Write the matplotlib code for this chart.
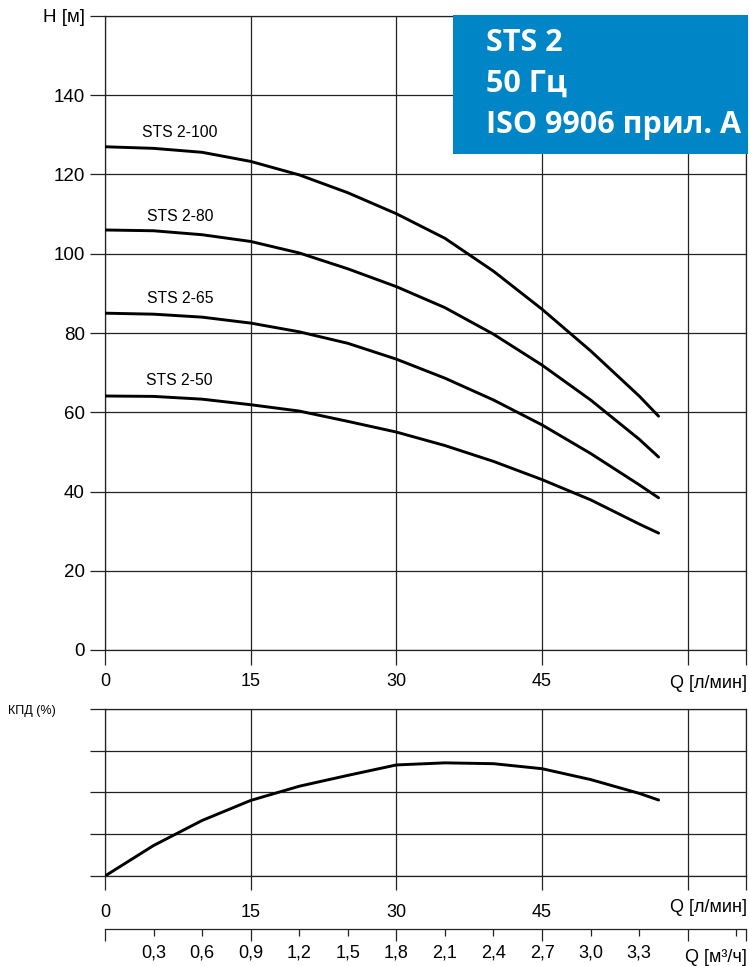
import matplotlib
matplotlib.use('Agg')
import matplotlib.pyplot as plt
from matplotlib.patches import Rectangle

# ---- data ----
q = [0, 5, 10, 15, 20, 25, 30, 35, 40, 45, 50, 55, 57]
h_100 = [127.0, 126.6, 125.6, 123.3, 119.9, 115.4, 110.1, 103.9, 95.6, 86.0, 75.5, 64.1, 59.0]
h_80 = [106.0, 105.8, 104.8, 103.1, 100.2, 96.2, 91.7, 86.4, 79.7, 71.9, 63.1, 53.2, 48.7]
h_65 = [85.0, 84.75, 84.0, 82.5, 80.3, 77.4, 73.4, 68.6, 63.1, 56.8, 49.6, 41.7, 38.4]
h_50 = [64.1, 64.0, 63.3, 61.9, 60.3, 57.7, 55.0, 51.6, 47.6, 43.0, 37.9, 31.8, 29.5]
curve_names = ['STS 2-100', 'STS 2-80', 'STS 2-65', 'STS 2-50']
label_q = 7.7
label_h = [130.7, 109.3, 88.8, 67.9]

eff = [0, 7.3, 13.3, 18.1, 21.5, 24.1, 26.6, 27.1, 26.9, 25.7, 23.1, 19.8, 18.2]

h_ticks = [0, 20, 40, 60, 80, 100, 120, 140, 160]
h_ticklabels = ['0', '20', '40', '60', '80', '100', '120', '140', 'H [м]']
q_ticks = [0, 15, 30, 45, 60, 66]
q_ticklabels = ['0', '15', '30', '45', '', '']
eff_ticks = [0, 10, 20, 30, 40]
m3_values = [0.3, 0.6, 0.9, 1.2, 1.5, 1.8, 2.1, 2.4, 2.7, 3.0, 3.3, 3.6, 3.9]
m3_labelled = 11  # first 11 values carry labels

title_lines = ['STS 2', '50 Гц', 'ISO 9906 прил. A']

# ---- figure ----
W, H = 749, 966
fig = plt.figure(figsize=(W / 100, H / 100), dpi=100)
plt.rcParams['font.family'] = ['Liberation Sans', 'DejaVu Sans']
GC = '#222222'
GLW = 0.9
narrow = ['Liberation Sans Narrow', 'Liberation Sans', 'DejaVu Sans']

def fx(px):
    return px / W

def fy(py):
    return 1 - py / H

ax = fig.add_axes([fx(105), fy(650), fx(746) - fx(105), fy(16) - fy(650)])
ax.set_xlim(0, 66)
ax.set_ylim(0, 160)
ax.set_xticks(q_ticks)
ax.set_xticklabels(q_ticklabels, family=narrow)
ax.set_yticks(h_ticks)
ax.set_yticklabels(h_ticklabels)
ax.tick_params(axis='x', direction='out', length=10.8, width=GLW, color=GC, pad=6, labelsize=13)
ax.tick_params(axis='y', direction='out', length=10.8, width=GLW, color=GC, pad=3.6, labelsize=13.5)
ax.grid(True, color=GC, lw=GLW)
for s in ax.spines.values():
    s.set_color(GC)
    s.set_linewidth(GLW)
for hv, name, lh in zip([h_100, h_80, h_65, h_50], curve_names, label_h):
    ax.plot(q, hv, color='black', lw=2.1, solid_capstyle='round', solid_joinstyle='round', zorder=3)
    ax.text(label_q, lh, name, ha='center', va='center', fontsize=11.3)

fig.text(fx(747), fy(683), 'Q [л/мин]', ha='right', va='center', fontsize=13, family=narrow)

# efficiency
ax2 = fig.add_axes([fx(105), fy(876), fx(746) - fx(105), fy(709) - fy(876)])
ax2.set_xlim(0, 66)
ax2.set_ylim(0, 40)
ax2.set_xticks(q_ticks)
ax2.set_xticklabels(q_ticklabels, family=narrow)
ax2.set_yticks(eff_ticks)
ax2.set_yticklabels([''] * len(eff_ticks))
ax2.tick_params(axis='x', direction='out', length=10.0, width=GLW, color=GC, pad=10, labelsize=13)
ax2.tick_params(axis='y', direction='out', length=10.8, width=GLW, color=GC)
ax2.grid(True, color=GC, lw=GLW)
for s in ax2.spines.values():
    s.set_color(GC)
    s.set_linewidth(GLW)
ax2.plot(q, eff, color='black', lw=2.1, solid_capstyle='round', solid_joinstyle='round', zorder=3)
fig.text(fx(8), fy(711), 'КПД (%)', ha='left', va='center', fontsize=9, family=narrow)
fig.text(fx(747), fy(908), 'Q [л/мин]', ha='right', va='center', fontsize=13, family=narrow)

# m3/h axis
ax3 = fig.add_axes([fx(105), fy(929), fx(746) - fx(105), 0.0005])
ax3.set_xlim(0, 66)
ax3.set_ylim(0, 1)
ax3.set_yticks([])
for k in ['left', 'right', 'top']:
    ax3.spines[k].set_visible(False)
ax3.spines['bottom'].set_color(GC)
ax3.spines['bottom'].set_linewidth(GLW)
pos = [v / 0.06 for v in m3_values]
labels = [('%.1f' % v).replace('.', ',') if i < m3_labelled else '' for i, v in enumerate(m3_values)]
major_pos, major_lab, minor_pos, minor_lab = [0, 66], ['', ''], [], []
for p, l in zip(pos, labels):
    if abs(p / 15 - round(p / 15)) < 1e-6:
        major_pos.append(p); major_lab.append(l)
    else:
        minor_pos.append(p); minor_lab.append(l)
ax3.set_xticks(major_pos)
ax3.set_xticklabels(major_lab, family=narrow)
ax3.set_xticks(minor_pos, minor=True)
ax3.set_xticklabels(minor_lab, minor=True, family=narrow)
ax3.tick_params(axis='x', which='major', direction='out', length=8.5, width=GLW, color=GC, pad=3, labelsize=13)
ax3.tick_params(axis='x', which='minor', direction='out', length=5, width=GLW, color=GC, pad=6.5, labelsize=13)
fig.text(fx(747), fy(957), 'Q [м³/ч]', ha='right', va='center', fontsize=13, family=narrow)

# title box
fig.patches.append(Rectangle((fx(453), fy(154)), fx(748) - fx(453), fy(15) - fy(154),
                             transform=fig.transFigure, facecolor='#0085C7', edgecolor='none', zorder=5))
for i, line in enumerate(title_lines):
    fig.text(fx(486), fy(43 + 41 * i), line, ha='left', va='center', color='white',
             fontsize=22, fontweight='bold', family=['Open Sans', 'DejaVu Sans'], zorder=6)

fig.savefig('out.png', dpi=100)
